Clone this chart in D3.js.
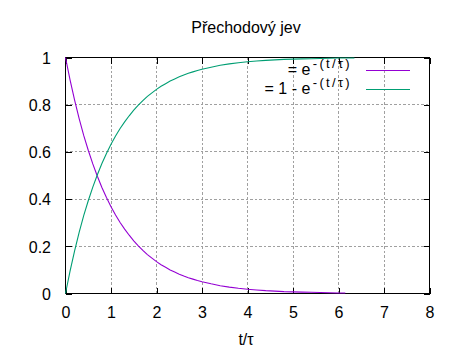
<!DOCTYPE html>
<html>
<head>
<meta charset="utf-8">
<script src="https://cdn.jsdelivr.net/npm/d3@7"></script>
<style>
  html, body { margin: 0; padding: 0; background: #fff; }
  svg { display: block; font-family: "Liberation Sans", Arial, sans-serif; }
</style>
</head>
<body>
<svg id="chart" width="460" height="355"></svg>
<script>
// ---- data ----
const title = "Přechodový jev";
const xLabel = "t/τ";
const xTicks = [0, 1, 2, 3, 4, 5, 6, 7, 8];
const yTicks = [0, 0.2, 0.4, 0.6, 0.8, 1];
const yTickLabels = ["0", "0.2", "0.4", "0.6", "0.8", "1"];

const tDecay = [0,0.1,0.2,0.3,0.4,0.5,0.6,0.7,0.8,0.9,1.0,1.1,1.2,1.3,1.4,1.5,1.6,1.7,1.8,1.9,2.0,2.1,2.2,2.3,2.4,2.5,2.6,2.7,2.8,2.9,3.0,3.2,3.4,3.6,3.8,4.0,4.2,4.4,4.6,4.8,5.0,5.2,5.4,5.6,5.8,6.0,6.15];
const decay = [1.000,0.905,0.819,0.741,0.670,0.607,0.549,0.497,0.449,0.407,0.368,0.333,0.301,0.273,0.247,0.223,0.202,0.183,0.165,0.150,0.135,0.122,0.111,0.100,0.091,0.082,0.074,0.067,0.061,0.055,0.050,0.041,0.033,0.027,0.022,0.018,0.015,0.012,0.010,0.008,0.007,0.006,0.005,0.004,0.003,0.002,0.002];

const tRise = [0,0.1,0.2,0.3,0.4,0.5,0.6,0.7,0.8,0.9,1.0,1.1,1.2,1.3,1.4,1.5,1.6,1.7,1.8,1.9,2.0,2.1,2.2,2.3,2.4,2.5,2.6,2.7,2.8,2.9,3.0,3.2,3.4,3.6,3.8,4.0,4.2,4.4,4.6,4.8,5.0,5.2,5.4,5.6,5.8,6.0,6.2,6.35];
const rise = [0.000,0.095,0.181,0.259,0.330,0.393,0.451,0.503,0.551,0.593,0.632,0.667,0.699,0.727,0.753,0.777,0.798,0.817,0.835,0.850,0.865,0.878,0.889,0.900,0.909,0.918,0.926,0.933,0.939,0.945,0.950,0.959,0.967,0.973,0.978,0.982,0.985,0.988,0.990,0.992,0.993,0.994,0.995,0.996,0.997,0.998,0.998,0.998];

const seriesNames = [
  { pre: "= e", sup: "-(t/τ)" },
  { pre: "= 1 - e", sup: "-(t/τ)" }
];
const seriesColors = ["#9400d3", "#009e73"];

// ---- layout ----
const L = 65.5, R = 429.5, T = 57.5, B = 293.5;
const svg = d3.select("#chart");
const x = d3.scaleLinear().domain([0, 8]).range([L, R]);
const y = d3.scaleLinear().domain([0, 1]).range([B, T]);
const fontSize = 16;

// grid
const grid = svg.append("g").attr("stroke", "#a0a0a0").attr("stroke-width", 1)
  .attr("stroke-dasharray", "2.5,2").attr("shape-rendering", "crispEdges");
xTicks.filter(d => d > 0 && d < 8).forEach(d => {
  grid.append("line").attr("x1", x(d)).attr("x2", x(d)).attr("y1", B).attr("y2", T);
});
yTicks.filter(d => d > 0 && d < 1).forEach(d => {
  grid.append("line").attr("x1", L).attr("x2", R).attr("y1", y(d)).attr("y2", y(d));
});

// axes (ticks inward, mirrored)
const axB = svg.append("g").attr("transform", `translate(0,${B})`)
  .call(d3.axisBottom(x).tickValues(xTicks).tickSize(-6).tickPadding(13).tickFormat(d3.format("d")));
const axT = svg.append("g").attr("transform", `translate(0,${T})`)
  .call(d3.axisTop(x).tickValues(xTicks).tickSize(-6).tickFormat(""));
const axL = svg.append("g").attr("transform", `translate(${L},0)`)
  .call(d3.axisLeft(y).tickValues(yTicks).tickSize(-6).tickPadding(14.5).tickFormat((d, i) => yTickLabels[i]));
const axR = svg.append("g").attr("transform", `translate(${R},0)`)
  .call(d3.axisRight(y).tickValues(yTicks).tickSize(-6).tickFormat(""));
[axB, axT, axL, axR].forEach(g => {
  g.select(".domain").remove();
  g.selectAll("line").attr("stroke", "#000").attr("shape-rendering", "crispEdges");
  g.selectAll("text").attr("font-size", fontSize).attr("font-family", "Liberation Sans, Arial, sans-serif").attr("fill", "#000");
});
axL.selectAll("text").attr("dy", "0.36em");

// border
svg.append("rect").attr("x", L).attr("y", T).attr("width", R - L).attr("height", B - T)
  .attr("fill", "none").attr("stroke", "#000").attr("stroke-width", 1).attr("shape-rendering", "crispEdges");

// curves
const line = d3.line().x(d => x(d[0])).y(d => y(d[1]));
const dataSets = [
  tDecay.map((t, i) => [t, decay[i]]),
  tRise.map((t, i) => [t, rise[i]])
];
dataSets.forEach((ds, i) => {
  svg.append("path").datum(ds).attr("d", line)
    .attr("fill", "none").attr("stroke", seriesColors[i]).attr("stroke-width", 1.1);
});

// legend
const legX = 352, legLine1 = 366, legLine2 = 410;
const legY = [70.5, 89.5];
seriesNames.forEach((s, i) => {
  const t = svg.append("text").attr("x", legX).attr("y", legY[i] + 4.5)
    .attr("text-anchor", "end").attr("font-size", fontSize).attr("fill", "#000");
  t.append("tspan").text(s.pre);
  t.append("tspan").attr("dx", 2.5).attr("dy", -7).attr("font-size", 13)
    .attr("letter-spacing", 2.3).text(s.sup);
  svg.append("line").attr("x1", legLine1).attr("x2", legLine2).attr("y1", legY[i]).attr("y2", legY[i])
    .attr("stroke", seriesColors[i]).attr("stroke-width", 1).attr("shape-rendering", "crispEdges");
});

// title & x label
svg.append("text").attr("x", 246).attr("y", 33).attr("text-anchor", "middle")
  .attr("font-size", fontSize).attr("fill", "#000").text(title);
svg.append("text").attr("x", 246).attr("y", 345).attr("text-anchor", "middle")
  .attr("font-size", fontSize).attr("fill", "#000").text(xLabel);
</script>
</body>
</html>
